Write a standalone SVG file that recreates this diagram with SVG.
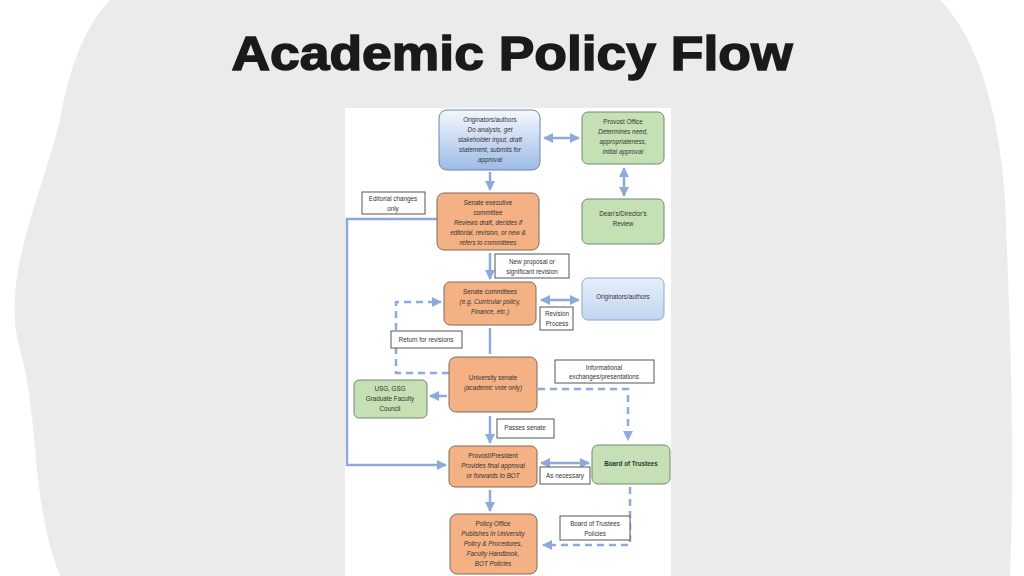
<svg xmlns="http://www.w3.org/2000/svg" width="1024" height="576" viewBox="0 0 1024 576">
<defs>
<linearGradient id="gb" x1="0" y1="0" x2="0" y2="1"><stop offset="0" stop-color="#f4f8fd"/><stop offset="1" stop-color="#9dbbe6"/></linearGradient>
<linearGradient id="gl" x1="0" y1="0" x2="0" y2="1"><stop offset="0" stop-color="#e6effa"/><stop offset="1" stop-color="#c2d6f1"/></linearGradient>
<marker id="a" viewBox="0 0 10 10" refX="9" refY="5" markerWidth="4" markerHeight="4" orient="auto-start-reverse"><path d="M0,0L10,5L0,10z" fill="#8eaadb"/></marker>
<style>
.o{fill:#f4b183;stroke:#7f6a5d;stroke-width:1}
.g{fill:#c5e0b4;stroke:#6f8a6a;stroke-width:1}
.l{fill:#fff;stroke:#555;stroke-width:1}
.c{fill:none;stroke:#8eaadb;stroke-width:2.5}
.d{fill:none;stroke:#8eaadb;stroke-width:2.5;stroke-dasharray:7,5}
text{font-family:"Liberation Sans",Arial,sans-serif;font-size:6.3px;fill:#333;text-anchor:middle}
.i{font-style:italic}
</style>
</defs>
<rect width="1024" height="576" fill="#fff"/>
<path d="M110,0 L940,0 C980,40 1000,120 1005,200 C1010,320 1015,450 1010,576 L60,576 C30,500 40,420 20,350 C0,280 40,200 60,120 C70,60 90,20 110,0Z" fill="#ebebeb"/>
<text x="512" y="70" textLength="561" lengthAdjust="spacingAndGlyphs" style="font-size:48px;font-weight:bold;fill:#1a1a1a;stroke:#1a1a1a;stroke-width:1.5">Academic Policy Flow</text>
<rect x="345" y="108" width="326" height="468" fill="#fff"/>
<g id="connectors">
<line class="c" x1="490" y1="172" x2="490" y2="190" marker-end="url(#a)"/>
<line class="c" x1="544" y1="138" x2="579" y2="138" marker-start="url(#a)" marker-end="url(#a)"/>
<line class="c" x1="624" y1="168" x2="624" y2="196" marker-start="url(#a)" marker-end="url(#a)"/>
<polyline class="c" points="437,219 347,219 347,465 446,465" marker-end="url(#a)"/>
<line class="c" x1="490" y1="253" x2="490" y2="279" marker-end="url(#a)"/>
<line class="c" x1="541" y1="300" x2="579" y2="300" marker-start="url(#a)" marker-end="url(#a)"/>
<polyline class="d" points="449,373 396,373 396,302 441,302" marker-end="url(#a)"/>
<line class="c" x1="490" y1="328" x2="490" y2="354"/>
<line class="c" x1="430" y1="396" x2="447" y2="396" marker-start="url(#a)"/>
<polyline class="d" points="538,389 628,389 628,440" marker-end="url(#a)"/>
<line class="c" x1="490" y1="416" x2="490" y2="443" marker-end="url(#a)"/>
<line class="c" x1="541" y1="463" x2="589" y2="463" marker-start="url(#a)" marker-end="url(#a)"/>
<line class="c" x1="490" y1="490" x2="490" y2="511" marker-end="url(#a)"/>
<polyline class="d" points="630,487 630,545 543,545" marker-end="url(#a)"/>
</g>
<g id="n1"><rect x="439" y="110" width="101" height="60" rx="8" fill="url(#gb)" stroke="#6f86aa"/>
<text x="490" y="122">Originators/authors</text><text class="i" x="490" y="132">Do analysis, get</text><text class="i" x="490" y="142">stakeholder input, draft</text><text class="i" x="490" y="152">statement, submits for</text><text class="i" x="490" y="162">approval</text></g>
<g id="n2"><rect class="g" x="582" y="112" width="82" height="52" rx="6"/>
<text x="623" y="124">Provost Office</text><text class="i" x="623" y="134">Determines need,</text><text class="i" x="623" y="144">appropriateness,</text><text class="i" x="623" y="154">initial approval</text></g>
<g id="n3"><rect class="g" x="582" y="199" width="82" height="45" rx="6"/>
<text x="623" y="216">Dean's/Director's</text><text x="623" y="226">Review</text></g>
<g id="n4"><rect class="o" x="437" y="193" width="102" height="57" rx="7"/>
<text x="488" y="205">Senate executive</text><text x="488" y="215">committee</text><text class="i" x="488" y="225">Reviews draft, decides if</text><text class="i" x="488" y="235">editorial, revision, or new &amp;</text><text class="i" x="488" y="245">refers to committees</text></g>
<g id="l1"><rect class="l" x="362" y="192" width="63" height="22"/><text x="393" y="201">Editorial changes</text><text x="393" y="211">only</text></g>
<g id="l2"><rect class="l" x="495" y="254" width="74" height="24"/><text x="532" y="264">New proposal or</text><text x="532" y="274">significant revision</text></g>
<g id="n5"><rect class="o" x="444" y="282" width="92" height="43" rx="6"/>
<text x="490" y="294">Senate committees</text><text class="i" x="490" y="304">(e.g. Curricular policy,</text><text class="i" x="490" y="314">Finance, etc.)</text></g>
<g id="n6"><rect x="582" y="278" width="82" height="42" rx="6" fill="url(#gl)" stroke="#8aa6cc"/><text x="623" y="299">Originators/authors</text></g>
<g id="l3"><rect class="l" x="540" y="307" width="33" height="23"/><text x="557" y="316">Revision</text><text x="557" y="326">Process</text></g>
<g id="l4"><rect class="l" x="391" y="331" width="71" height="17"/><text x="426" y="342">Return for revisions</text></g>
<g id="n7"><rect class="o" x="449" y="357" width="88" height="55" rx="7"/>
<text x="493" y="380">University senate</text><text class="i" x="493" y="390">(academic vote only)</text></g>
<g id="l5"><rect class="l" x="555" y="360" width="99" height="23"/><text x="604" y="370">Informational</text><text x="604" y="379">exchanges/presentations</text></g>
<g id="n8"><rect class="g" x="354" y="380" width="73" height="38" rx="5"/>
<text x="390" y="391">USG, GSG</text><text x="390" y="401">Graduate Faculty</text><text x="390" y="411">Council</text></g>
<g id="l6"><rect class="l" x="497" y="419" width="57" height="19"/><text x="525" y="430">Passes senate</text></g>
<g id="n9"><rect class="o" x="449" y="446" width="88" height="41" rx="6"/>
<text x="493" y="458">Provost/President</text><text class="i" x="493" y="468">Provides final approval</text><text class="i" x="493" y="478">or forwards to BOT</text></g>
<g id="n10"><rect class="g" x="592" y="445" width="78" height="39" rx="6"/><text x="631" y="466" style="font-weight:bold">Board of Trustees</text></g>
<g id="l7"><rect class="l" x="540" y="467" width="50" height="17"/><text x="565" y="478">As necessary</text></g>
<g id="n11"><rect class="o" x="450" y="514" width="87" height="60" rx="7"/>
<text x="493" y="526">Policy Office</text><text class="i" x="493" y="536">Publishes in University</text><text class="i" x="493" y="546">Policy &amp; Procedures,</text><text class="i" x="493" y="556">Faculty Handbook,</text><text class="i" x="493" y="566">BOT Policies</text></g>
<g id="l8"><rect class="l" x="560" y="516" width="70" height="24"/><text x="595" y="526">Board of Trustees</text><text x="595" y="536">Policies</text></g>
</svg>
